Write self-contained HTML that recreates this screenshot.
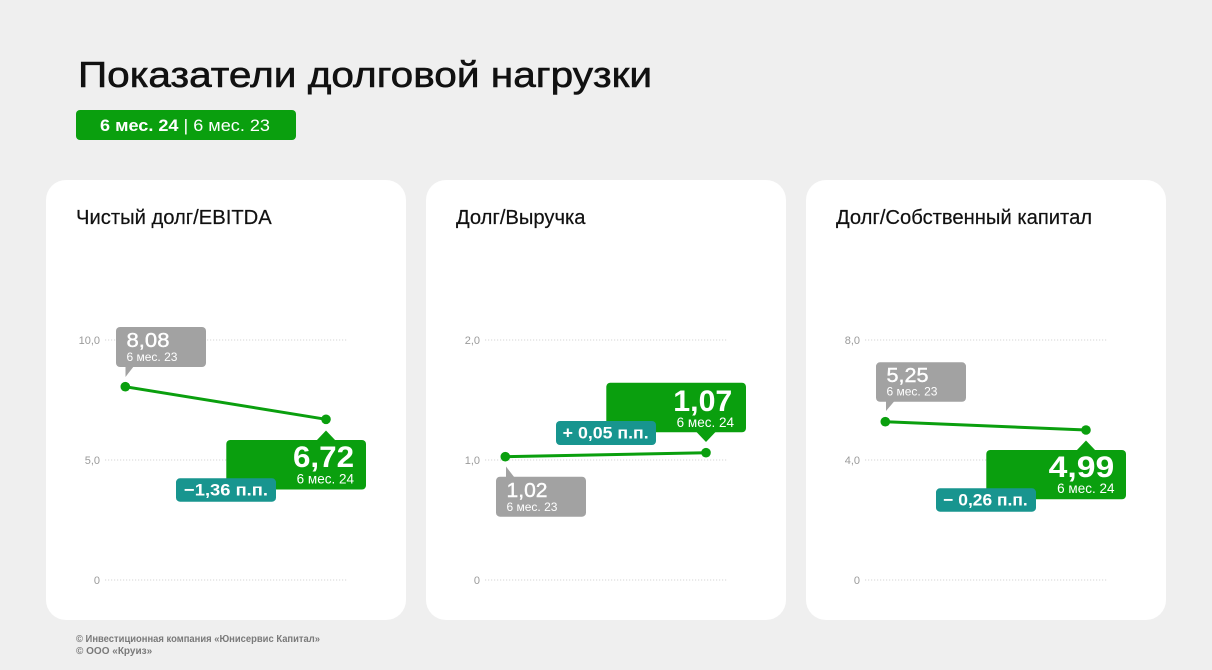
<!DOCTYPE html>
<html><head><meta charset="utf-8"><style>
html,body{margin:0;padding:0;background:#efefef;}
svg{display:block;font-family:"Liberation Sans","DejaVu Sans",sans-serif;}
</style></head><body>
<svg width="1212" height="670" viewBox="0 0 1212 670" xmlns="http://www.w3.org/2000/svg">
<rect width="1212" height="670" fill="#efefef"/>
<text x="78" y="87" font-size="36" fill="#111" textLength="574" lengthAdjust="spacingAndGlyphs" stroke="#111" stroke-width="0.6">Показатели долговой нагрузки</text>
<rect x="76" y="110" width="220" height="30" rx="4" fill="#0a9f0e"/>
<text x="100" y="131" font-size="17" fill="#fff" textLength="170" lengthAdjust="spacingAndGlyphs"><tspan font-weight="bold">6 мес. 24</tspan> | 6 мес. 23</text>

<!-- cards -->
<rect x="46" y="180" width="360" height="440" rx="20" fill="#fff"/>
<rect x="426" y="180" width="360" height="440" rx="20" fill="#fff"/>
<rect x="806" y="180" width="360" height="440" rx="20" fill="#fff"/>

<g font-size="20.2" fill="#111" stroke="#111" stroke-width="0.2">
<text x="76" y="224">Чистый долг/EBITDA</text>
<text x="456" y="224">Долг/Выручка</text>
<text x="836" y="224">Долг/Собственный капитал</text>
</g>

<g stroke="#d6d6d6" stroke-width="1" stroke-dasharray="1.2 1.8">
<line x1="105" y1="340" x2="348" y2="340"/><line x1="105" y1="460" x2="348" y2="460"/><line x1="105" y1="580" x2="348" y2="580"/>
<line x1="485" y1="340" x2="728" y2="340"/><line x1="485" y1="460" x2="728" y2="460"/><line x1="485" y1="580" x2="728" y2="580"/>
<line x1="865" y1="340" x2="1108" y2="340"/><line x1="865" y1="460" x2="1108" y2="460"/><line x1="865" y1="580" x2="1108" y2="580"/>
</g>
<g font-size="11" fill="#9a9a9a" text-anchor="end">
<text x="100" y="344">10,0</text><text x="100" y="464">5,0</text><text x="100" y="584">0</text>
<text x="480" y="344">2,0</text><text x="480" y="464">1,0</text><text x="480" y="584">0</text>
<text x="860" y="344">8,0</text><text x="860" y="464">4,0</text><text x="860" y="584">0</text>
</g>

<!-- Chart 1 -->
<line x1="125.3" y1="386.7" x2="326" y2="419.3" stroke="#0a9f0e" stroke-width="3"/>
<circle cx="125.3" cy="386.7" r="4.8" fill="#0a9f0e"/>
<circle cx="326" cy="419.3" r="4.8" fill="#0a9f0e"/>
<rect x="116" y="327" width="90" height="40" rx="4" fill="#a2a2a2"/>
<path d="M125.5 366 L125.5 377 L134 366 Z" fill="#a2a2a2"/>
<text x="126.5" y="347" font-size="20" fill="#fff" stroke="#fff" stroke-width="0.4" textLength="43" lengthAdjust="spacingAndGlyphs">8,08</text>
<text x="126.5" y="361" font-size="12" fill="#fff">6 мес. 23</text>
<rect x="226.3" y="440" width="139.7" height="49.5" rx="4" fill="#0a9f0e"/>
<path d="M316.5 440.5 L326 430.5 L335.5 440.5 Z" fill="#0a9f0e"/>
<text x="293" y="467" font-size="30" font-weight="bold" fill="#fff" textLength="61" lengthAdjust="spacingAndGlyphs">6,72</text>
<text x="354" y="483.5" font-size="13.5" fill="#fff" text-anchor="end">6 мес. 24</text>
<rect x="176" y="478.3" width="100" height="23.4" rx="4" fill="#18958f"/>
<text x="184" y="495.5" font-size="17" font-weight="bold" fill="#fff" textLength="84" lengthAdjust="spacingAndGlyphs">−1,36 п.п.</text>

<!-- Chart 2 -->
<line x1="505.3" y1="456.7" x2="706" y2="452.7" stroke="#0a9f0e" stroke-width="3"/>
<circle cx="505.3" cy="456.7" r="4.8" fill="#0a9f0e"/>
<circle cx="706" cy="452.7" r="4.8" fill="#0a9f0e"/>
<rect x="606.3" y="382.7" width="139.7" height="49.6" rx="4" fill="#0a9f0e"/>
<path d="M696.5 432 L706 442 L715.5 432 Z" fill="#0a9f0e"/>
<text x="673.3" y="411" font-size="30" font-weight="bold" fill="#fff" textLength="59" lengthAdjust="spacingAndGlyphs">1,07</text>
<text x="734" y="427" font-size="13.5" fill="#fff" text-anchor="end">6 мес. 24</text>
<rect x="556" y="421" width="100" height="24" rx="4" fill="#18958f"/>
<text x="562.7" y="438.5" font-size="17" font-weight="bold" fill="#fff" textLength="86" lengthAdjust="spacingAndGlyphs">+ 0,05 п.п.</text>
<rect x="496" y="476.7" width="90" height="40" rx="4" fill="#a2a2a2"/>
<path d="M506 477.5 L506 466.5 L514.5 477.5 Z" fill="#a2a2a2"/>
<text x="506.5" y="497" font-size="20" fill="#fff" stroke="#fff" stroke-width="0.4" textLength="41" lengthAdjust="spacingAndGlyphs">1,02</text>
<text x="506.5" y="511" font-size="12" fill="#fff">6 мес. 23</text>

<!-- Chart 3 -->
<line x1="885.3" y1="421.7" x2="1086" y2="430" stroke="#0a9f0e" stroke-width="3"/>
<circle cx="885.3" cy="421.7" r="4.8" fill="#0a9f0e"/>
<circle cx="1086" cy="430" r="4.8" fill="#0a9f0e"/>
<rect x="876" y="362.3" width="90" height="39.5" rx="4" fill="#a2a2a2"/>
<path d="M886 401 L886 411 L894.5 401 Z" fill="#a2a2a2"/>
<text x="886.5" y="382" font-size="20" fill="#fff" stroke="#fff" stroke-width="0.4" textLength="42" lengthAdjust="spacingAndGlyphs">5,25</text>
<text x="886.5" y="395.5" font-size="12" fill="#fff">6 мес. 23</text>
<rect x="986.3" y="450" width="139.7" height="49.3" rx="4" fill="#0a9f0e"/>
<path d="M1076.5 450.5 L1086 440.5 L1095.5 450.5 Z" fill="#0a9f0e"/>
<text x="1048.7" y="477" font-size="30" font-weight="bold" fill="#fff" textLength="65.6" lengthAdjust="spacingAndGlyphs">4,99</text>
<text x="1114.5" y="493" font-size="13.5" fill="#fff" text-anchor="end">6 мес. 24</text>
<rect x="936" y="488.3" width="100" height="23.4" rx="4" fill="#18958f"/>
<text x="943.3" y="505.5" font-size="17" font-weight="bold" fill="#fff" textLength="84.4" lengthAdjust="spacingAndGlyphs">− 0,26 п.п.</text>

<!-- Footer -->
<text x="76" y="642" font-size="10" font-weight="bold" fill="#7a7a7a" textLength="244" lengthAdjust="spacingAndGlyphs">© Инвестиционная компания «Юнисервис Капитал»</text>
<text x="76" y="654" font-size="10" font-weight="bold" fill="#7a7a7a">© ООО «Круиз»</text>
</svg>
</body></html>
